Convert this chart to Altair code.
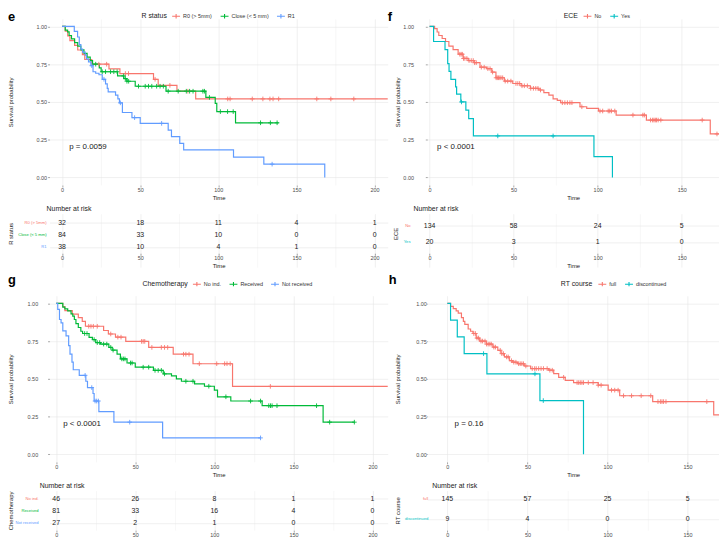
import altair as alt
import pandas as pd

FONT = "Liberation Sans"
RED, GREEN, BLUE, CYAN = "#F8766D", "#00BA38", "#619CFF", "#00BFC4"
MAJOR, MINOR = "#E6E6E6", "#F2F2F2"

# ---------------- panel e : R status ----------------
E_GROUPS = ["R0 (> 5mm)", "Close (< 5 mm)", "R1"]
E_R0_T = [0, 2, 3.6, 5, 8, 10, 13, 14.5, 19, 30, 37, 58.5, 61.5, 73.5, 85.5]
E_R0_S = [1, 0.969, 0.938, 0.906, 0.875, 0.844, 0.813, 0.781, 0.75, 0.719, 0.688, 0.65, 0.61, 0.571, 0.52]
E_R0_END = 212
E_R0_CENS = [23.5, 28.5, 40.5, 42.5, 59.5, 69, 80.5, 106, 107.5, 121.7, 128.5, 133, 135, 138.6, 163, 172, 186.7]
E_CL_T = [0, 2, 3.5, 4.5, 6, 8, 10, 12, 14, 16, 18, 19.5, 23.8, 25, 35.5, 39.5, 41.5, 46.8, 66.5, 92, 98, 99, 111]
E_CL_S = [1, 0.976, 0.964, 0.94, 0.917, 0.893, 0.869, 0.845, 0.821, 0.797, 0.774, 0.75, 0.726, 0.70, 0.672, 0.655, 0.637, 0.604, 0.571, 0.53, 0.49, 0.436, 0.362]
E_CL_END = 138.6
E_CL_CENS = [21.5, 25.7, 27.8, 31, 33.1, 35.2, 39.4, 40.5, 41.5, 42.6, 48.9, 53.2, 55.3, 57.4, 60.5, 62.7, 64.8, 67.9,
             74.3, 79.5, 81.6, 83.8, 90.1, 91.1, 94.3, 101.3, 105.9, 109.5, 127, 133.3, 137.6]
E_R1_T = [0, 7.8, 9.9, 11, 12, 13.1, 14.8, 15.6, 16.9, 18.4, 19.8, 21.5, 23.6, 25.7, 27.8, 28.9, 29.5, 34.2, 35.7,
          36.7, 38.6, 44.7, 50, 67.9, 70, 75.3, 77.8, 109.7, 129.1, 168.1]
E_R1_S = [1, 0.967, 0.93, 0.88, 0.85, 0.83, 0.81, 0.785, 0.765, 0.74, 0.70, 0.69, 0.68, 0.65, 0.62, 0.59, 0.567, 0.545,
          0.52, 0.494, 0.43, 0.396, 0.358, 0.314, 0.27, 0.226, 0.182, 0.134, 0.088, 0]
E_R1_END = None
E_R1_CENS = [19.0, 26.8, 37.3, 46.4, 63.7, 134.4]
E_RISK_T = [0, 50, 100, 150, 200]
E_RISK_R0 = [32, 18, 11, 4, 1]
E_RISK_CL = [84, 33, 10, 0, 0]
E_RISK_R1 = [38, 10, 4, 1, 0]

# ---------------- panel f : ECE ----------------
F_GROUPS = ["No", "Yes"]
F_NO_T = [0, 3, 4.5, 5.5, 7.5, 9.5, 11.5, 14, 17, 20, 23, 26.5, 30, 34, 37, 39.5, 44.5, 49.5, 54.5, 60, 65, 68, 71,
          73.5, 76, 78, 89.5, 93.5, 100.5, 111, 129, 167]
F_NO_S = [1, 0.985, 0.963, 0.94, 0.92, 0.9, 0.87, 0.846, 0.816, 0.788, 0.774, 0.76, 0.73, 0.72, 0.698, 0.66, 0.638,
          0.622, 0.607, 0.59, 0.579, 0.562, 0.545, 0.52, 0.51, 0.495, 0.468, 0.457, 0.44, 0.413, 0.38, 0.288]
F_NO_END = 176
F_NO_CENS = [18, 18.8, 19.5, 20.2, 21, 22.2, 23.5, 24.8, 26, 26.8, 27.8, 30.8, 32.5, 34.7, 36, 37.5, 39.6, 40.3, 41,
             41.8, 42.5, 43.5, 45, 46.5, 48.4, 51.4, 52.5, 53.6, 55, 56.4, 58.2, 60.2, 61.8, 63.2, 64.5, 66, 79, 80.5,
             82, 83.5, 84.7, 90.6, 101.4, 103, 106.3, 107.2, 108.2, 110.2, 121, 126.9, 127.8, 131.5, 132.7, 133.5,
             134.3, 135, 136, 137.6, 162.2, 171]
F_YES_T = [0, 2.4, 9.2, 10.8, 11.6, 12.7, 15.5, 16.1, 18.6, 21.6, 23.3, 26.1, 97.8, 108.8]
F_YES_S = [1, 0.90, 0.846, 0.754, 0.703, 0.65, 0.60, 0.552, 0.50, 0.446, 0.39, 0.275, 0.138, 0]
F_YES_END = None
F_YES_CENS = [19.0, 40.6, 73.5]
F_RISK_T = [0, 50, 100, 150]
F_RISK_NO = [134, 58, 24, 5]
F_RISK_YES = [20, 3, 1, 0]

# ---------------- panel g : Chemotherapy ----------------
G_GROUPS = ["No ind.", "Received", "Not received"]
G_NI_T = [0, 4.2, 5.5, 10.2, 14, 16.5, 18.5, 30, 33, 37.5, 44, 58.5, 74, 86.5, 111.5]
G_NI_S = [1, 0.978, 0.952, 0.928, 0.905, 0.88, 0.848, 0.82, 0.797, 0.776, 0.748, 0.708, 0.663, 0.6, 0.45]
G_NI_END = 212
G_NI_CENS = [20.6, 22, 23.5, 26, 34.5, 39, 41, 54, 55, 56, 60.5, 66.5, 68.5, 70.5, 80.5, 82, 84, 90.5, 101.5, 106.5,
             108, 110, 135.4]
G_RC_T = [0, 4.2, 5.5, 7.3, 9.4, 10.5, 11.5, 12.5, 14, 15.6, 16.7, 20.8, 22.9, 25, 28.1, 33.3, 35.4, 38.5, 40.6, 44.8,
          50, 61.5, 67.7, 72.9, 76, 79.2, 87.5, 93.75, 100, 102, 110.4, 130.2, 168.75]
G_RC_S = [1, 0.975, 0.963, 0.95, 0.93, 0.915, 0.893, 0.865, 0.84, 0.815, 0.8, 0.775, 0.76, 0.74, 0.73, 0.708, 0.69,
          0.664, 0.632, 0.605, 0.577, 0.556, 0.533, 0.52, 0.5, 0.484, 0.467, 0.451, 0.425, 0.381, 0.353, 0.322, 0.213]
G_RC_END = 188.5
G_RC_CENS = [18, 19.5, 24, 26, 27.5, 30, 32, 34.5, 36, 41.5, 42.5, 43.5, 47, 48, 55, 58.5, 62.5, 64.5, 66.5, 68.5, 82,
             86.5, 96.5, 107.3, 122.9, 129.2, 134.4, 135.5, 136.5, 139.6, 164.6, 172.9, 188.5]
G_NR_T = [0, 1, 2.1, 3.1, 4.2, 6.25, 7.9, 8.75, 10, 10.8, 14.6, 18.75, 19.8, 23.3, 24, 27, 36.5, 67.3]
G_NR_S = [1, 0.96, 0.893, 0.87, 0.817, 0.784, 0.72, 0.664, 0.61, 0.56, 0.523, 0.484, 0.442, 0.403, 0.353, 0.283,
          0.213, 0.109]
G_NR_END = 129.2
G_NR_CENS = [18.3, 22.5, 24.6, 25.6, 26.7, 46.5, 129.2]
G_RISK_T = [0, 50, 100, 150, 200]
G_RISK_NI = [46, 26, 8, 1, 1]
G_RISK_RC = [81, 33, 16, 4, 0]
G_RISK_NR = [27, 2, 1, 0, 0]

# ---------------- panel h : RT course ----------------
H_GROUPS = ["full", "discontinued"]
H_FU_T = [0, 2, 3.7, 5.5, 6.8, 8.8, 10, 10.9, 13, 14.5, 16, 18, 20.2, 24.3, 28.4, 31.5, 33.5, 35.6, 38.7, 40.8, 43.8,
          48, 52, 63.3, 66.4, 69.5, 73.6, 78.8, 94.2, 100.4, 107.6, 128.2, 166.3]
H_FU_S = [1, 0.98, 0.965, 0.95, 0.935, 0.905, 0.88, 0.86, 0.83, 0.815, 0.8, 0.77, 0.75, 0.73, 0.71, 0.689, 0.667,
          0.645, 0.62, 0.61, 0.6, 0.585, 0.568, 0.557, 0.535, 0.51, 0.49, 0.475, 0.458, 0.425, 0.388, 0.349, 0.261]
H_FU_END = 175
H_FU_CENS = [16.5, 17.5, 18.5, 19.5, 21, 22, 23.5, 24.5, 25.5, 26.5, 27.4, 29, 30, 33, 34, 35, 37, 38, 40, 41.5, 42.8,
             44.5, 45.5, 46.5, 47.5, 49, 53, 54.5, 55.5, 57, 58.5, 60, 62.3, 64, 65.5, 72.6, 81, 82, 83, 84, 85, 88,
             91, 94.2, 96, 102.5, 104.5, 106.6, 110, 115, 121, 127, 131.5, 133, 134, 135, 136.5, 162]
H_DC_T = [0, 2, 6.2, 10.5, 24.7, 57.8, 85]
H_DC_S = [1, 0.889, 0.778, 0.667, 0.533, 0.356, 0]
H_DC_END = None
H_DC_CENS = [22.6, 54.7, 59.9]
H_RISK_T = [0, 50, 100, 150]
H_RISK_FU = [145, 57, 25, 5]
H_RISK_DC = [9, 4, 0, 0]

PVALS = ["p = 0.0059", "p < 0.0001", "p < 0.0001", "p = 0.16"]
PVAL_T, PVAL_S = 4.5, 0.2

PLUS = "M-1,0L1,0M0,-1L0,1"
KEY = "M-1,0L1,0M0,-0.55L0,0.55"
X_TICKS = [0, 25, 50, 75, 100, 125, 150, 175, 200]
Y_TICKS = [0, 0.125, 0.25, 0.375, 0.5, 0.625, 0.75, 0.875, 1.0]


def step_value(T, S, t):
    v = S[0]
    for ti, si in zip(T, S):
        if ti <= t:
            v = si
    return v


def km_frames(groups, curves):
    line_rows, cens_rows = [], []
    for g, (T, S, end, cens) in zip(groups, curves):
        for t, s in zip(T, S):
            line_rows.append({"g": g, "t": t, "s": s})
        if end is not None:
            line_rows.append({"g": g, "t": end, "s": S[-1]})
        for c in cens:
            cens_rows.append({"g": g, "t": c, "s": step_value(T, S, c)})
    return pd.DataFrame(line_rows), pd.DataFrame(cens_rows)


def x_axis(dom, offset=0, title="Time"):
    vals = [v for v in X_TICKS if dom[0] <= v <= dom[1]]
    return alt.Axis(
        values=vals, offset=offset, title=title if title else "",
        labelExpr="datum.value % 50 == 0 ? datum.label : ''",
        tickOpacity={"condition": {"test": "datum.value % 50 != 0", "value": 0}, "value": 1},
        gridColor={"condition": {"test": "datum.value % 50 != 0", "value": MINOR}, "value": MAJOR},
        tickSize=2, labelPadding=0.5, titlePadding=1.5, labelFlush=False, labelOverlap=False, grid=True)


def km_plot(groups, colors, curves, dom, width, leg_title, leg_x, leg_y, pval,
            letter, letter_x, letter_y, ytitle_x, ylab_pad, ytick):
    ldf, cdf = km_frames(groups, curves)
    xs = alt.Scale(domain=dom, nice=False, zero=False)
    ys = alt.Scale(domain=[-0.05, 1.05], nice=False, zero=False)
    cs = alt.Scale(domain=groups, range=colors)
    yax = alt.Axis(
        values=Y_TICKS, title="Survival probability", titleX=ytitle_x, titleBaseline="middle",
        labelExpr="datum.value * 4 % 1 == 0 ? format(datum.value, '.2f') : ''",
        tickOpacity={"condition": {"test": "datum.value * 4 % 1 != 0", "value": 0}, "value": 1},
        gridColor={"condition": {"test": "datum.value * 4 % 1 != 0", "value": MINOR}, "value": MAJOR},
        labelPadding=ylab_pad, tickSize=ytick, labelOverlap=False, grid=True)
    leg = alt.Legend(
        title=leg_title, orient="none", legendX=leg_x, legendY=leg_y, direction="horizontal",
        titleOrient="left", symbolType=KEY, symbolSize=64, symbolStrokeWidth=1.1,
        labelFontSize=5.5, titleFontSize=7, titleFontWeight="normal", titleColor="#1A1A1A",
        labelColor="#333333", labelFont=FONT, titleFont=FONT, columnPadding=5, labelOffset=2,
        titlePadding=4, padding=0)
    lines = alt.Chart(ldf).mark_line(interpolate="step-after", strokeWidth=1.2, clip=True).encode(
        x=alt.X("t:Q", scale=xs, axis=x_axis(dom)),
        y=alt.Y("s:Q", scale=ys, axis=yax),
        color=alt.Color("g:N", scale=cs, legend=leg))
    marks = alt.Chart(cdf).mark_point(shape=PLUS, filled=False, size=22, strokeWidth=0.9,
                                      opacity=1, clip=True).encode(
        x="t:Q", y="s:Q", color=alt.Color("g:N", scale=cs))
    ptxt = alt.Chart(pd.DataFrame({"t": [PVAL_T], "s": [PVAL_S], "label": [pval]})).mark_text(
        align="left", baseline="middle", fontSize=8, font=FONT, color="#1A1A1A").encode(
        x="t:Q", y="s:Q", text="label:N")
    ltxt = alt.Chart(pd.DataFrame({"label": [letter]})).mark_text(
        align="left", baseline="top", fontSize=13, fontWeight="bold", font=FONT, color="#000000").encode(
        x=alt.value(letter_x), y=alt.value(letter_y), text="label:N")
    return alt.layer(lines, marks, ptxt, ltxt).properties(width=width, height=168)


def risk_table(groups, colors, times, counts, dom, width, height, ydom, ytitle, ytitle_x, ytitle_y,
               label_x, title_dx, xoffset, xtitle="Time"):
    rows = []
    for i, (g, cnt) in enumerate(zip(groups, counts)):
        for t, n in zip(times, cnt):
            rows.append({"g": g, "r": i, "t": t, "n": n})
    df = pd.DataFrame(rows)
    ldf = pd.DataFrame({"g": groups, "r": list(range(len(groups)))})
    xs = alt.Scale(domain=dom, nice=False, zero=False)
    ys = alt.Scale(domain=ydom, reverse=True, nice=False, zero=False)
    cs = alt.Scale(domain=groups, range=colors)
    nums = alt.Chart(df).mark_text(fontSize=7, font=FONT, color="#1A1A1A", baseline="middle").encode(
        x=alt.X("t:Q", scale=xs, axis=x_axis(dom, xoffset, xtitle)),
        y=alt.Y("r:Q", scale=ys, axis=alt.Axis(
            values=list(range(len(groups))), labels=False, ticks=False, title=ytitle,
            titleX=ytitle_x, titleY=ytitle_y, titleBaseline="middle", gridColor=MAJOR, grid=True)),
        text="n:Q")
    labs = alt.Chart(ldf).mark_text(align="right", baseline="middle", fontSize=4.2, font=FONT).encode(
        x=alt.value(label_x), y=alt.Y("r:Q", scale=ys), text="g:N",
        color=alt.Color("g:N", scale=cs, legend=None))
    return alt.layer(nums, labs).properties(
        width=width, height=height,
        title=alt.TitleParams("Number at risk", anchor="start", frame="group", fontSize=7,
                              fontWeight="normal", font=FONT, color="#1A1A1A", offset=2, dx=title_dx))


W1, W2 = 342, 295
E_DOM = [-8.04, 208.4]
G_DOM = [-4.19, 209.6]
F_DOM = [-1.35, 172.2]
H_DOM = [-12.53, 169.6]

E_COL = [RED, GREEN, BLUE]
F_COL = [RED, CYAN]

pe = km_plot(E_GROUPS, E_COL,
             [(E_R0_T, E_R0_S, E_R0_END, E_R0_CENS), (E_CL_T, E_CL_S, E_CL_END, E_CL_CENS),
              (E_R1_T, E_R1_S, E_R1_END, E_R1_CENS)],
             E_DOM, W1, "R status", 93, -8, PVALS[0], "e", -42, -8, -39, 1, 2)
pf = km_plot(F_GROUPS, F_COL,
             [(F_NO_T, F_NO_S, F_NO_END, F_NO_CENS), (F_YES_T, F_YES_S, F_YES_END, F_YES_CENS)],
             F_DOM, W2, "ECE", 138, -8, PVALS[1], "f", -40, -8, -30, 12, 2)
pg = km_plot(G_GROUPS, E_COL,
             [(G_NI_T, G_NI_S, G_NI_END, G_NI_CENS), (G_RC_T, G_RC_S, G_RC_END, G_RC_CENS),
              (G_NR_T, G_NR_S, G_NR_END, G_NR_CENS)],
             G_DOM, W1, "Chemotherapy", 94, -17, PVALS[2], "g", -42, -22, -39, 10, 2)
ph = km_plot(H_GROUPS, F_COL,
             [(H_FU_T, H_FU_S, H_FU_END, H_FU_CENS), (H_DC_T, H_DC_S, H_DC_END, H_DC_CENS)],
             H_DOM, W2, "RT course", 135, -17, PVALS[3], "h", -39, -22, -30, 0, 1)

te = risk_table(E_GROUPS, E_COL, E_RISK_T, [E_RISK_R0, E_RISK_CL, E_RISK_R1], E_DOM, W1, 54,
                [-0.72, 3.6], "R status", -39, 20, -3, -3, -14)
tf = risk_table(F_GROUPS, F_COL, F_RISK_T, [F_RISK_NO, F_RISK_YES], F_DOM, W2, 54,
                [-0.706, 2.47], "ECE", -32, 20, -17, -14, -14)
tg = risk_table(G_GROUPS, E_COL, G_RISK_T, [G_RISK_NI, G_RISK_RC, G_RISK_NR], G_DOM, W1, 40,
                [-0.68, 2.6], "Chemotherapy", -39, 20, -11, -10, 0, None)
th = risk_table(H_GROUPS, F_COL, H_RISK_T, [H_RISK_FU, H_RISK_DC], H_DOM, W2, 40,
                [-0.435, 1.565], "RT course", -30, 20, 1, 5, 0, None)

chart = alt.concat(pe, pf, te, tf, pg, ph, tg, th, columns=2,
                   spacing={"row": 29, "column": 40}, bounds="flush").resolve_scale(
    x="independent", y="independent", color="independent").properties(
    padding=0).configure_view(stroke=None).configure_axis(
    domain=False, labelFont=FONT, titleFont=FONT, labelFontSize=5.5, titleFontSize=6,
    labelColor="#4D4D4D", titleColor="#1A1A1A", titleFontWeight="normal",
    tickColor="#4D4D4D", tickWidth=0.5, gridWidth=0.6)

chart.save("out.html", embed_options={"renderer": "svg", "actions": False})
